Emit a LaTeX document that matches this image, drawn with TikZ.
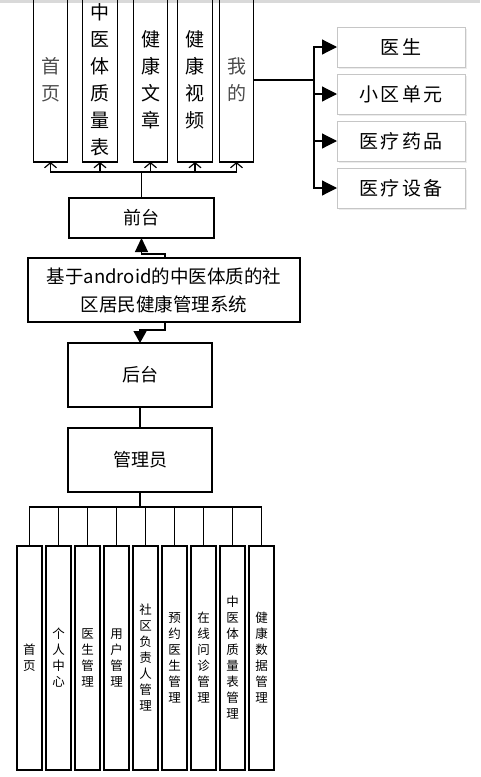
\documentclass[tikz,border=0pt]{standalone}
\usepackage{fontspec}
\setmainfont{Noto Sans CJK SC}
\newfontfamily\spacedfont[LetterSpace=12]{Noto Sans CJK SC}
\usetikzlibrary{positioning, arrows.meta, shadows}
\tikzset{
    every node/.style={inner sep=0pt, outer sep=0pt}, % boxes keep their exact sizes
    node distance=7pt, % gap between the stacked boxes
}

\begin{document}
\begin{tikzpicture}[
                        x=1pt, y=-1pt,
                        line width=1.2pt,
                        styleTop/.style={draw, minimum width=34.5pt, minimum height=164pt, align=center, font=\fontsize{19}{27}\selectfont},
                        styleMid/.style={draw, minimum width=144pt, minimum height=64pt, align=center, font=\fontsize{18}{28}\selectfont},
                        styleLow/.style={draw, minimum width=25pt, minimum height=224pt, align=center, font=\fontsize{12.5}{16}\selectfont},
                        styleRight/.style={draw=gray!45, fill=white, line width=1pt, minimum width=128pt, minimum height=40pt, font=\spacedfont\fontsize{19}{22}\selectfont, drop shadow={opacity=0.15, shadow xshift=1.5pt, shadow yshift=-1.5pt}},
                        tipUp/.style={-{Straight Barb[length=5pt,width=12pt]}},
                        tipFill/.style={-{Triangle[length=14pt,width=13pt]}},
                        tipRight/.style={-{Triangle[length=15pt,width=15pt]}},
                    ]
                    \useasboundingbox (0,0) rectangle (480,777);
                    \fill[gray!30] (0,0) rectangle (480,3);
                    \node[styleTop, text=black!70] (t1) at (50.5,80) {首\\页};
                    \node[styleTop, right=15pt of t1] (t2) {中\\医\\体\\质\\量\\表};
                    \node[styleTop, right=16pt of t2] (t3) {健\\康\\文\\章};
                    \node[styleTop, right=10pt of t3] (t4) {健\\康\\视\\频};
                    \node[styleTop, right=7pt of t4, text=black!70] (t5) {我\\的};
                    \node[styleRight] (r1) at (401,47) {医生};
                    \node[styleRight, below=of r1] (r2) {小区单元};
                    \node[styleRight, below=of r2] (r3) {医疗药品};
                    \node[styleRight, below=of r3] (r4) {医疗设备};
                    \node[styleMid, minimum width=145pt, minimum height=40pt] (qt) at (141.5,218) {前台};
                    \node[styleMid, minimum width=272pt, font=\fontsize{18.5}{28}\selectfont] (sys) at (164,290) {基于android的中医体质的社\\区居民健康管理系统};
                    \node[styleMid] (ht) at (140,375) {后台};
                    \node[styleMid, below=21pt of ht] (gly) {管理员};
                    \node[styleLow] (b1) at (29.5,658) {首\\页};
                    \node[styleLow, right=4pt of b1] (b2) {个\\人\\中\\心};
                    \node[styleLow, right=4pt of b2] (b3) {医\\生\\管\\理};
                    \node[styleLow, right=4pt of b3] (b4) {用\\户\\管\\理};
                    \node[styleLow, right=4pt of b4] (b5) {社\\区\\负\\责\\人\\管\\理};
                    \node[styleLow, right=4pt of b5] (b6) {预\\约\\医\\生\\管\\理};
                    \node[styleLow, right=4pt of b6] (b7) {在\\线\\问\\诊\\管\\理};
                    \node[styleLow, right=4pt of b7] (b8) {中\\医\\体\\质\\量\\表\\管\\理};
                    \node[styleLow, right=4pt of b8] (b9) {健\\康\\数\\据\\管\\理};
                    \coordinate (tbus) at (141.5,172);
                    \coordinate (rbus) at (314,80);
                    \coordinate (lbus) at (140,507);
                    \draw (qt.north) -- (tbus);
                    \draw[tipUp] (tbus) -| (t1.south);
                    \draw[tipUp] (tbus) -| (t2.south);
                    \draw[tipUp] (tbus) -| (t3.south);
                    \draw[tipUp] (tbus) -| (t4.south);
                    \draw[tipUp] (tbus) -| (t5.south);
                    \draw (t5.east) -- (rbus);
                    \draw[tipRight] (rbus) |- (r1.west);
                    \draw[tipRight] (rbus) |- (r2.west);
                    \draw[tipRight] (rbus) |- (r3.west);
                    \draw[tipRight] (rbus) |- (r4.west);
                    \draw[tipFill] ([xshift=1pt]sys.north) -- ++(0,-4) -| (qt.south);
                    \draw[tipFill, -{Triangle[length=12pt,width=13pt]}] ([xshift=1pt]sys.south) -- ++(0,8) -| (ht.north);
                    \draw (ht.south) -- (gly.north);
                    \draw (gly.south) -- (lbus);
                    \draw (lbus) -| (b1.north);
                    \draw (lbus) -| (b2.north);
                    \draw (lbus) -| (b3.north);
                    \draw (lbus) -| (b4.north);
                    \draw (lbus) -| (b5.north);
                    \draw (lbus) -| (b6.north);
                    \draw (lbus) -| (b7.north);
                    \draw (lbus) -| (b8.north);
                    \draw (lbus) -| (b9.north);
                \end{tikzpicture}
\end{document}
